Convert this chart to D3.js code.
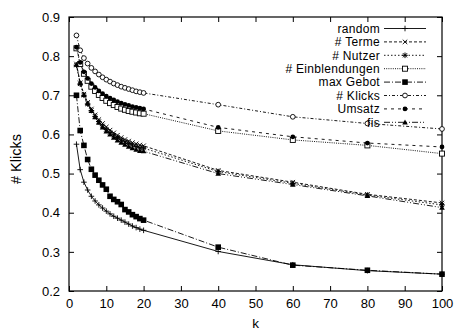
<!DOCTYPE html>
<html>
<head>
<meta charset="utf-8">
<script src="https://cdn.jsdelivr.net/npm/d3@7"></script>
<style>
  html, body { margin: 0; padding: 0; background: #fff; }
  svg { display: block; }
  text { font-family: "Liberation Sans", Arial, Helvetica, sans-serif; fill: #000; }
</style>
</head>
<body>
<svg id="chart" width="455" height="331"></svg>
<script>
// k values (number of results) and the click share for each ranking strategy
const kValues = [2, 3, 4, 5, 6, 7, 8, 9, 10, 11, 12, 13, 14, 15, 16, 17, 18, 19, 20, 40, 60, 80, 100];

const randomVals   = [0.575, 0.510, 0.478, 0.458, 0.442, 0.430, 0.420, 0.412, 0.404, 0.397, 0.391, 0.386, 0.381, 0.376, 0.371, 0.366, 0.362, 0.358, 0.355, 0.301, 0.267, 0.252, 0.243];
const termeVals    = [0.780, 0.732, 0.703, 0.682, 0.665, 0.650, 0.638, 0.628, 0.619, 0.611, 0.604, 0.598, 0.592, 0.587, 0.583, 0.579, 0.576, 0.573, 0.571, 0.508, 0.478, 0.447, 0.425];
const nutzerVals   = [0.777, 0.729, 0.700, 0.678, 0.661, 0.646, 0.633, 0.622, 0.613, 0.605, 0.598, 0.592, 0.586, 0.581, 0.577, 0.573, 0.569, 0.566, 0.565, 0.505, 0.475, 0.445, 0.420];
const einblVals    = [0.820, 0.780, 0.755, 0.737, 0.722, 0.711, 0.701, 0.693, 0.686, 0.680, 0.675, 0.670, 0.666, 0.663, 0.660, 0.658, 0.656, 0.654, 0.653, 0.609, 0.586, 0.572, 0.551];
const gebotVals    = [0.700, 0.610, 0.572, 0.536, 0.511, 0.496, 0.483, 0.471, 0.460, 0.442, 0.434, 0.428, 0.421, 0.408, 0.402, 0.395, 0.390, 0.385, 0.381, 0.312, 0.266, 0.253, 0.243];
const klicksVals   = [0.853, 0.815, 0.795, 0.781, 0.770, 0.761, 0.753, 0.746, 0.740, 0.735, 0.730, 0.726, 0.722, 0.719, 0.716, 0.713, 0.710, 0.708, 0.706, 0.676, 0.645, 0.628, 0.614];
const umsatzVals   = [0.823, 0.784, 0.760, 0.743, 0.730, 0.720, 0.711, 0.704, 0.698, 0.693, 0.688, 0.684, 0.680, 0.677, 0.674, 0.671, 0.669, 0.667, 0.665, 0.618, 0.594, 0.578, 0.568];
const fisVals      = [0.778, 0.731, 0.701, 0.679, 0.660, 0.644, 0.630, 0.618, 0.608, 0.600, 0.592, 0.585, 0.579, 0.574, 0.569, 0.565, 0.561, 0.558, 0.557, 0.500, 0.472, 0.443, 0.413];

const seriesNames  = ["random", "# Terme", "# Nutzer", "# Einblendungen", "max Gebot", "# Klicks", "Umsatz", "fis"];
const seriesValues = [randomVals, termeVals, nutzerVals, einblVals, gebotVals, klicksVals, umsatzVals, fisVals];
const seriesDash   = [null, "3,2", "1.5,2", "1,1.2", "6,2,1,2", "3,2,1,2", "3,4", "6,2,1,2,1,2"];
const seriesMarker = ["plus", "cross", "star", "square", "squareFilled", "circle", "circleFilled", "triangleFilled"];

const xTicks = [0, 10, 20, 30, 40, 50, 60, 70, 80, 90, 100];
const yTicks = [0.2, 0.3, 0.4, 0.5, 0.6, 0.7, 0.8, 0.9];

const svg = d3.select("#chart");
const plotLeft = 69, plotRight = 442, plotTop = 17, plotBottom = 291;

const x = d3.scaleLinear().domain([0, 100]).range([plotLeft, plotRight]);
const y = d3.scaleLinear().domain([0.2, 0.9]).range([plotBottom, plotTop]);

// inward ticks on all four sides
const tick = 5;
function styleAxis(g) {
  g.select(".domain").remove();
  g.selectAll(".tick line").attr("stroke", "#000").attr("stroke-width", 1);
  g.selectAll(".tick text").attr("font-size", 13).attr("fill", "#000")
    .attr("font-family", "Liberation Sans, Arial, sans-serif");
}

svg.append("g").attr("transform", `translate(0,${plotBottom})`)
  .call(d3.axisBottom(x).tickValues(xTicks).tickSizeInner(-tick).tickSizeOuter(0).tickPadding(8).tickFormat(d3.format("d")))
  .call(styleAxis);
svg.append("g").attr("transform", `translate(0,${plotTop})`)
  .call(d3.axisTop(x).tickValues(xTicks).tickSizeInner(-tick).tickSizeOuter(0).tickFormat(""))
  .call(styleAxis);
svg.append("g").attr("transform", `translate(${plotLeft},0)`)
  .call(d3.axisLeft(y).tickValues(yTicks).tickSizeInner(-tick).tickSizeOuter(0).tickPadding(9).tickFormat(d3.format(".1f")))
  .call(styleAxis);
svg.append("g").attr("transform", `translate(${plotRight},0)`)
  .call(d3.axisRight(y).tickValues(yTicks).tickSizeInner(-tick).tickSizeOuter(0).tickFormat(""))
  .call(styleAxis);

// frame
svg.append("rect")
  .attr("x", plotLeft).attr("y", plotTop)
  .attr("width", plotRight - plotLeft).attr("height", plotBottom - plotTop)
  .attr("fill", "none").attr("stroke", "#000").attr("stroke-width", 1.2);

// axis titles
svg.append("text").attr("x", (plotLeft + plotRight) / 2).attr("y", 328)
  .attr("text-anchor", "middle").attr("font-size", 13.5).text("k");
svg.append("text")
  .attr("transform", `translate(21,159) rotate(-90)`)
  .attr("text-anchor", "middle").attr("font-size", 14.5).text("# Klicks");

// point markers in the gnuplot style
function drawMarker(g, type, cx, cy) {
  const s = 2.8;
  switch (type) {
    case "plus":
      g.append("path").attr("d", `M${cx - s},${cy}H${cx + s}M${cx},${cy - s}V${cy + s}`)
        .attr("stroke", "#000").attr("stroke-width", 0.9).attr("fill", "none");
      break;
    case "cross":
      g.append("path").attr("d", `M${cx - s * 0.8},${cy - s * 0.8}L${cx + s * 0.8},${cy + s * 0.8}M${cx - s * 0.8},${cy + s * 0.8}L${cx + s * 0.8},${cy - s * 0.8}`)
        .attr("stroke", "#000").attr("stroke-width", 0.9).attr("fill", "none");
      break;
    case "star":
      g.append("path").attr("d", `M${cx - s},${cy}H${cx + s}M${cx},${cy - s}V${cy + s}M${cx - s * 0.75},${cy - s * 0.75}L${cx + s * 0.75},${cy + s * 0.75}M${cx - s * 0.75},${cy + s * 0.75}L${cx + s * 0.75},${cy - s * 0.75}`)
        .attr("stroke", "#000").attr("stroke-width", 1).attr("fill", "none");
      break;
    case "square":
      g.append("rect").attr("x", cx - s * 0.9).attr("y", cy - s * 0.9).attr("width", s * 1.8).attr("height", s * 1.8)
        .attr("fill", "#fff").attr("stroke", "#000").attr("stroke-width", 0.9);
      break;
    case "squareFilled":
      g.append("rect").attr("x", cx - s).attr("y", cy - s).attr("width", s * 2).attr("height", s * 2)
        .attr("fill", "#000");
      break;
    case "circle":
      g.append("circle").attr("cx", cx).attr("cy", cy).attr("r", s * 0.85)
        .attr("fill", "#fff").attr("stroke", "#000").attr("stroke-width", 0.9);
      break;
    case "circleFilled":
      g.append("circle").attr("cx", cx).attr("cy", cy).attr("r", s * 0.85).attr("fill", "#000");
      break;
    case "triangleFilled":
      g.append("path").attr("d", `M${cx},${cy - s}L${cx + s},${cy + s * 0.75}L${cx - s},${cy + s * 0.75}Z`)
        .attr("fill", "#000");
      break;
  }
}

const line = d3.line().x(d => x(d[0])).y(d => y(d[1]));

seriesValues.forEach((vals, i) => {
  const pts = kValues.map((k, j) => [k, vals[j]]);
  const g = svg.append("g");
  g.append("path").datum(pts).attr("d", line)
    .attr("fill", "none").attr("stroke", "#000").attr("stroke-width", 0.9)
    .attr("stroke-dasharray", seriesDash[i]);
  pts.forEach(p => drawMarker(g, seriesMarker[i], x(p[0]), y(p[1])));
});

// legend
const legX = 380, legLine0 = 384, legLine1 = 426, legY0 = 28.5, legStep = 13.4;
seriesNames.forEach((name, i) => {
  const ly = legY0 + i * legStep;
  const g = svg.append("g");
  g.append("text").attr("x", legX).attr("y", ly + 4.3).attr("text-anchor", "end")
    .attr("font-size", 12).attr("letter-spacing", 0.3).text(name);
  g.append("line").attr("x1", legLine0).attr("x2", legLine1).attr("y1", ly).attr("y2", ly)
    .attr("stroke", "#000").attr("stroke-width", 0.9).attr("stroke-dasharray", seriesDash[i]);
  drawMarker(g, seriesMarker[i], (legLine0 + legLine1) / 2, ly);
});
</script>
</body>
</html>
